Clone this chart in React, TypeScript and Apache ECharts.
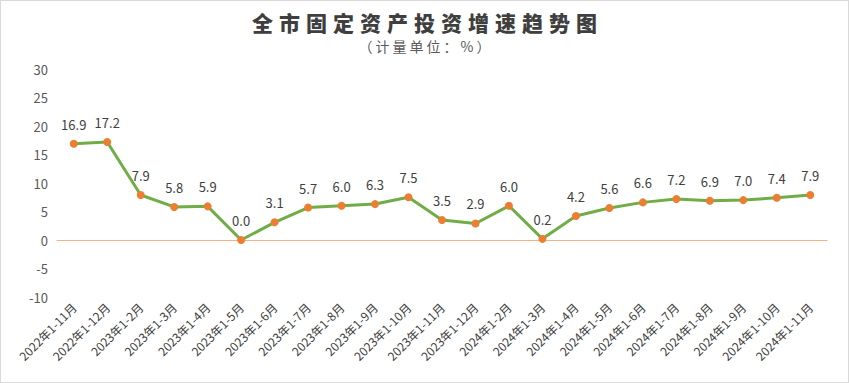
import React, { useEffect, useRef } from "react";
import * as echarts from "echarts";

const categories = [
  "2022年1-11月", "2022年1-12月", "2023年1-2月", "2023年1-3月", "2023年1-4月", "2023年1-5月",
  "2023年1-6月", "2023年1-7月", "2023年1-8月", "2023年1-9月", "2023年1-10月", "2023年1-11月",
  "2023年1-12月", "2024年1-2月", "2024年1-3月", "2024年1-4月", "2024年1-5月", "2024年1-6月",
  "2024年1-7月", "2024年1-8月", "2024年1-9月", "2024年1-10月", "2024年1-11月",
];
const growth = [16.9, 17.2, 7.9, 5.8, 5.9, 0.0, 3.1, 5.7, 6.0, 6.3, 7.5, 3.5, 2.9, 6.0, 0.2, 4.2, 5.6, 6.6, 7.2, 6.9, 7.0, 7.4, 7.9];
const yMin = -10;
const yMax = 30;
const yStep = 5;

const TITLE = "全市固定资产投资增速趋势图";
const SUBTITLE = "（计量单位：%）";
const FONT = "'Noto Sans CJK SC', 'Noto Sans', sans-serif";

export default function App() {
  const ref = useRef<HTMLDivElement>(null);
  useEffect(() => {
    if (!ref.current) return;
    const chart = echarts.init(ref.current, null, { renderer: "svg" });
    chart.setOption({
      animation: false,
      backgroundColor: "#ffffff",
      title: {
        text: TITLE,
        subtext: SUBTITLE,
        left: "center",
        top: 5,
        itemGap: 7,
        textStyle: { fontFamily: FONT, fontSize: 21, fontWeight: 900, color: "#3f3f3f" },
        subtextStyle: { fontFamily: FONT, fontSize: 14, color: "#595959" },
      },
      grid: { left: 56, right: 21, top: 68, bottom: 85, containLabel: false },
      xAxis: {
        type: "category",
        data: categories,
        boundaryGap: true,
        axisLine: { onZero: true, lineStyle: { color: "#F4B183", width: 1 } },
        axisTick: { show: false },
        axisLabel: {
          rotate: 45,
          interval: 0,
          fontFamily: FONT,
          fontSize: 12,
          color: "#404040",
          margin: 8,
        },
      },
      yAxis: {
        type: "value",
        min: yMin,
        max: yMax,
        interval: yStep,
        splitLine: { show: false },
        axisLine: { show: false },
        axisTick: { show: false },
        axisLabel: { fontFamily: FONT, fontSize: 13, color: "#595959", margin: 9 },
      },
      series: [
        {
          type: "line",
          data: growth,
          symbol: "circle",
          symbolSize: 8,
          lineStyle: { color: "#70AD47", width: 3 },
          itemStyle: { color: "#ED7D31" },
          label: {
            show: true,
            position: "top",
            distance: 9,
            fontFamily: FONT,
            fontSize: 13,
            color: "#404040",
            formatter: (p: any) => Number(p.value).toFixed(1),
          },
        },
      ],
    });
    // widen title spacing like the reference
    const texts = ref.current.querySelectorAll("text");
    texts.forEach((t) => {
      const s = t.textContent || "";
      if (s === TITLE) {
        (t as SVGTextElement).style.letterSpacing = "6px";
        t.setAttribute("dx", "3");
      } else if (s === SUBTITLE) {
        (t as SVGTextElement).style.letterSpacing = "3px";
        t.setAttribute("dx", "1.5");
      }
    });
    return () => chart.dispose();
  }, []);
  return (
    <div
      style={{
        position: "absolute",
        left: 0,
        top: 0,
        width: 849,
        height: 383,
        border: "1px solid #d9d9d9",
        boxSizing: "border-box",
        background: "#fff",
      }}
    >
      <div ref={ref} style={{ width: 847, height: 381 }} />
    </div>
  );
}
